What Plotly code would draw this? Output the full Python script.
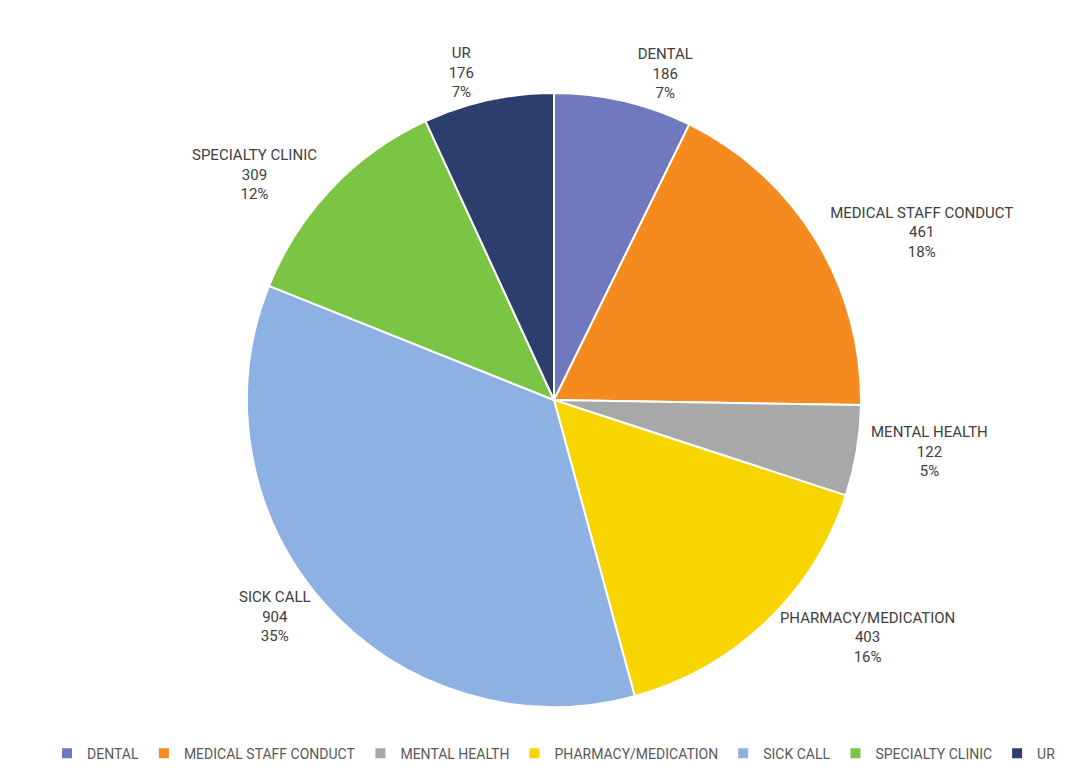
import plotly.graph_objects as go

categories = ["DENTAL", "MEDICAL STAFF CONDUCT", "MENTAL HEALTH", "PHARMACY/MEDICATION",
              "SICK CALL", "SPECIALTY CLINIC", "UR"]
counts = [186, 461, 122, 403, 904, 309, 176]
colors = ["#7079BE", "#F58A1F", "#A8A8A8", "#F8D500", "#8EB1E3", "#7CC444", "#2D3E6C"]

font_family = "Roboto, Arial, sans-serif"

fig = go.Figure(go.Pie(
    labels=categories,
    values=counts,
    sort=False,
    direction="clockwise",
    rotation=0,
    marker=dict(colors=colors, line=dict(color="white", width=2)),
    texttemplate="%{label}<br>%{value}<br>%{percent:.0%}",
    textposition="outside",
    textfont=dict(family=font_family, size=15, color="#404040"),
    showlegend=True,
))

fig.update_layout(
    width=1092, height=782,
    margin=dict(l=0, r=0, t=85, b=83, autoexpand=False),
    paper_bgcolor="white",
    font=dict(family=font_family, size=14, color="#595959"),
    legend=dict(orientation="h", x=0.5, xanchor="center", y=-0.05, yanchor="top",
                font=dict(size=14, color="#595959"), itemwidth=30,
                traceorder="normal"),
)

fig.write_html("out.html")
